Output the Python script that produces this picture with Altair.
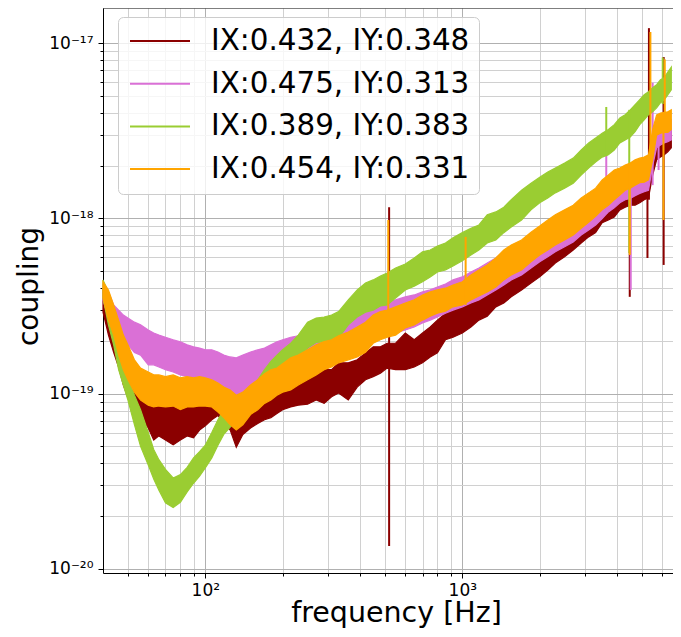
import altair as alt
import pandas as pd

# ---------------- data ----------------
freq = [40, 42, 44, 46, 48, 50, 53, 56, 60, 63, 66, 70, 75, 80, 85, 90, 95, 100,
        106, 112, 118, 125, 132, 140, 150, 160, 170, 180, 190, 200, 215, 230, 250,
        270, 290, 310, 330, 360, 390, 420, 450, 480, 510, 550, 600, 650, 700, 750,
        800, 860, 920, 1000, 1080, 1160, 1250, 1350, 1450, 1550, 1700, 1850, 2000,
        2150, 2300, 2500, 2700, 2900, 3100, 3300, 3500, 3700, 3900, 4100, 4300,
        4500, 4700, 4900, 5100, 5300, 5500, 5700, 5900, 6100, 6300, 6500]

labels = ["IX:0.432, IY:0.348", "IX:0.475, IY:0.313",
          "IX:0.389, IY:0.383", "IX:0.454, IY:0.331"]
colors = ["#8b0000", "#da70d6", "#9acd32", "#ffa500"]

# series 1 (dark red): upper / lower edge of the noisy trace
dr_hi = [4.0e-19, 3.25e-19, 2.70e-19, 2.16e-19, 1.66e-19, 1.37e-19, 1.17e-19, 1.05e-19,
         9.8e-20, 9.45e-20, 9.2e-20, 8.95e-20, 9.2e-20, 9.45e-20, 9.2e-20, 9.45e-20,
         9.8e-20, 1.02e-19, 1.05e-19, 1.02e-19, 9.8e-20, 9.45e-20, 8.6e-20, 8.95e-20,
         9.45e-20, 1.0e-19, 1.05e-19, 1.08e-19, 1.12e-19, 1.17e-19, 1.23e-19, 1.26e-19,
         1.30e-19, 1.31e-19, 1.37e-19, 1.37e-19, 1.50e-19, 1.50e-19, 1.56e-19, 1.71e-19,
         1.85e-19, 1.85e-19, 1.94e-19, 1.94e-19, 2.22e-19, 2.03e-19, 2.22e-19, 2.40e-19,
         2.63e-19, 2.88e-19, 3.0e-19, 3.13e-19, 3.52e-19, 3.81e-19, 4.0e-19, 4.64e-19,
         4.46e-19, 5.08e-19, 5.57e-19, 6.05e-19, 6.45e-19, 7.25e-19, 7.85e-19, 8.6e-19,
         8.95e-19, 1.02e-18, 1.07e-18, 1.16e-18, 1.28e-18, 1.33e-18, 1.40e-18, 1.45e-18,
         1.45e-18, 1.45e-18, 1.55e-18, 1.60e-18, 1.66e-18, 1.70e-18, 2.46e-18, 2.80e-18,
         2.80e-18, 2.91e-18, 3.07e-18, 3.22e-18]
dr_lo = [2.92e-19, 2.16e-19, 1.72e-19, 1.42e-19, 1.12e-19, 9.45e-20, 8.4e-20, 7.3e-20,
         6.37e-20, 5.44e-20, 5.74e-20, 5.44e-20, 5.1e-20, 5.44e-20, 5.74e-20, 5.6e-20,
         6.2e-20, 6.55e-20, 7.1e-20, 7.5e-20, 6.9e-20, 6.2e-20, 4.95e-20, 5.85e-20,
         6.37e-20, 6.75e-20, 7.1e-20, 7.3e-20, 7.7e-20, 8.1e-20, 8.4e-20, 8.6e-20,
         8.7e-20, 9.2e-20, 8.8e-20, 9.6e-20, 1.01e-19, 9.2e-20, 1.09e-19, 1.20e-19,
         1.25e-19, 1.31e-19, 1.40e-19, 1.37e-19, 1.37e-19, 1.42e-19, 1.50e-19, 1.62e-19,
         1.71e-19, 2.03e-19, 2.10e-19, 2.22e-19, 2.40e-19, 2.63e-19, 2.77e-19, 3.13e-19,
         3.29e-19, 3.57e-19, 3.91e-19, 4.28e-19, 4.64e-19, 5.08e-19, 5.57e-19, 6.05e-19,
         6.61e-19, 7.25e-19, 7.85e-19, 8.3e-19, 9.45e-19, 9.8e-19, 1.02e-18, 1.12e-18,
         1.16e-18, 1.19e-18, 1.19e-18, 1.23e-18, 1.28e-18, 1.31e-18, 1.77e-18, 2.16e-18,
         2.24e-18, 2.31e-18, 2.40e-18, 2.53e-18]
dr_spike_f = [519, 4480, 5250, 5320, 6070]
dr_spike_lo = [1.35e-20, 3.57e-19, 5.95e-19, 1.28e-18, 5.43e-19]
dr_spike_hi = [1.16e-18, 1.45e-18, 1.66e-18, 1.22e-17, 8.35e-18]

# series 2 (orchid)
vi_hi = [4.17e-19, 3.81e-19, 3.21e-19, 3.0e-19, 2.81e-19, 2.70e-19, 2.56e-19, 2.47e-19,
         2.31e-19, 2.22e-19, 2.16e-19, 2.10e-19, 2.03e-19, 1.98e-19, 1.90e-19, 1.85e-19,
         1.82e-19, 1.78e-19, 1.78e-19, 1.73e-19, 1.66e-19, 1.62e-19, 1.60e-19, 1.66e-19,
         1.73e-19, 1.78e-19, 1.82e-19, 1.90e-19, 1.98e-19, 2.03e-19, 2.10e-19, 2.14e-19,
         2.22e-19, 2.31e-19, 2.40e-19, 2.53e-19, 2.63e-19, 2.70e-19, 2.81e-19, 2.94e-19,
         3.21e-19, 3.21e-19, 3.29e-19, 3.43e-19, 3.57e-19, 3.66e-19, 3.81e-19, 3.91e-19,
         4.06e-19, 4.23e-19, 4.46e-19, 4.64e-19, 4.95e-19, 5.22e-19, 5.57e-19, 5.95e-19,
         6.45e-19, 6.90e-19, 7.25e-19, 7.95e-19, 8.6e-19, 9.18e-19, 9.8e-19, 1.05e-18,
         1.12e-18, 1.19e-18, 1.28e-18, 1.36e-18, 1.45e-18, 1.55e-18, 1.61e-18, 1.70e-18,
         1.77e-18, 1.81e-18, 1.84e-18, 1.89e-18, 1.94e-18, 2.02e-18, 2.8e-18, 3.33e-18,
         3.43e-18, 3.52e-18, 3.57e-18, 3.66e-18]
vi_lo = [3.43e-19, 2.70e-19, 2.37e-19, 2.16e-19, 1.98e-19, 1.90e-19, 1.72e-19, 1.66e-19,
         1.46e-19, 1.46e-19, 1.42e-19, 1.37e-19, 1.33e-19, 1.28e-19, 1.25e-19, 1.23e-19,
         1.20e-19, 1.17e-19, 1.14e-19, 1.11e-19, 1.05e-19, 1.02e-19, 9.2e-20, 1.02e-19,
         1.08e-19, 1.15e-19, 1.23e-19, 1.31e-19, 1.37e-19, 1.42e-19, 1.33e-19, 1.37e-19,
         1.42e-19, 1.46e-19, 1.53e-19, 1.60e-19, 1.66e-19, 1.72e-19, 1.82e-19, 1.90e-19,
         2.03e-19, 2.08e-19, 2.16e-19, 2.22e-19, 2.31e-19, 2.40e-19, 2.53e-19, 2.63e-19,
         2.74e-19, 2.88e-19, 3.0e-19, 3.13e-19, 3.29e-19, 3.43e-19, 3.66e-19, 3.91e-19,
         4.17e-19, 4.46e-19, 4.76e-19, 5.22e-19, 5.66e-19, 6.05e-19, 6.45e-19, 6.90e-19,
         7.35e-19, 8.05e-19, 8.6e-19, 9.18e-19, 1.0e-18, 1.09e-18, 1.15e-18, 1.23e-18,
         1.28e-18, 1.30e-18, 1.35e-18, 1.39e-18, 1.42e-18, 1.45e-18, 2.0e-18, 2.53e-18,
         2.63e-18, 2.70e-18, 2.74e-18, 2.81e-18]
vi_spike_f = [3630, 4520, 5500, 5800]
vi_spike_lo = [1.06e-18, 3.91e-19, 1.55e-18, 1.89e-18]
vi_spike_hi = [2.36e-18, 1.81e-18, 5.95e-18, 3.33e-18]

# series 3 (yellowgreen)
gr_hi = [4.46e-19, 3.81e-19, 3.0e-19, 2.16e-19, 1.66e-19, 1.28e-19, 9.8e-20, 8.1e-20,
         6.0e-20, 4.8e-20, 4.2e-20, 3.7e-20, 3.3e-20, 3.45e-20, 3.8e-20, 4.3e-20,
         4.67e-20, 5.08e-20, 6.0e-20, 7.1e-20, 8.1e-20, 8.6e-20, 9.2e-20, 9.8e-20,
         1.08e-19, 1.20e-19, 1.37e-19, 1.53e-19, 1.66e-19, 1.78e-19, 1.94e-19, 2.16e-19,
         2.56e-19, 2.70e-19, 2.74e-19, 2.81e-19, 2.94e-19, 3.43e-19, 3.91e-19, 4.28e-19,
         4.46e-19, 4.70e-19, 4.88e-19, 5.22e-19, 5.50e-19, 5.95e-19, 6.45e-19, 6.61e-19,
         6.95e-19, 7.25e-19, 7.75e-19, 8.3e-19, 8.8e-19, 9.18e-19, 1.05e-18, 1.09e-18,
         1.16e-18, 1.28e-18, 1.45e-18, 1.59e-18, 1.72e-18, 1.84e-18, 1.94e-18, 2.07e-18,
         2.21e-18, 2.46e-18, 2.70e-18, 2.88e-18, 3.07e-18, 3.22e-18, 3.43e-18, 3.75e-18,
         3.91e-18, 4.17e-18, 4.46e-18, 4.76e-18, 5.08e-18, 5.29e-18, 5.57e-18, 5.80e-18,
         6.19e-18, 6.35e-18, 6.85e-18, 7.3e-18]
gr_lo = [3.52e-19, 2.47e-19, 1.90e-19, 1.37e-19, 1.12e-19, 9.2e-20, 6.65e-20, 5.0e-20,
         3.92e-20, 3.26e-20, 2.81e-20, 2.38e-20, 2.24e-20, 2.4e-20, 2.75e-20, 3.08e-20,
         3.38e-20, 3.77e-20, 4.3e-20, 5.08e-20, 5.85e-20, 6.45e-20, 7.1e-20, 7.6e-20,
         8.5e-20, 9.2e-20, 1.05e-19, 1.17e-19, 1.25e-19, 1.37e-19, 1.50e-19, 1.60e-19,
         1.82e-19, 1.96e-19, 1.98e-19, 2.03e-19, 2.08e-19, 2.47e-19, 2.74e-19, 2.92e-19,
         3.0e-19, 3.17e-19, 3.21e-19, 3.52e-19, 3.91e-19, 4.11e-19, 4.35e-19, 4.64e-19,
         4.95e-19, 5.08e-19, 5.36e-19, 5.73e-19, 6.19e-19, 6.61e-19, 7.25e-19, 7.54e-19,
         8.3e-19, 8.95e-19, 9.8e-19, 1.12e-18, 1.23e-18, 1.31e-18, 1.40e-18, 1.49e-18,
         1.59e-18, 1.77e-18, 1.94e-18, 2.10e-18, 2.24e-18, 2.31e-18, 2.46e-18, 2.70e-18,
         2.81e-18, 2.92e-18, 3.13e-18, 3.43e-18, 3.66e-18, 3.91e-18, 4.06e-18, 4.28e-18,
         4.58e-18, 4.76e-18, 5.08e-18, 5.43e-18]
gr_spike_f = [3630, 4460, 6020]
gr_spike_lo = [2.27e-18, 6.35e-19, 4.5e-18]
gr_spike_hi = [4.33e-18, 4.17e-18, 8.3e-18]

# series 4 (orange)
or_hi = [4.35e-19, 3.91e-19, 3.21e-19, 2.63e-19, 2.16e-19, 1.90e-19, 1.56e-19, 1.40e-19,
         1.33e-19, 1.28e-19, 1.28e-19, 1.25e-19, 1.28e-19, 1.23e-19, 1.25e-19, 1.23e-19,
         1.25e-19, 1.23e-19, 1.20e-19, 1.15e-19, 1.09e-19, 1.05e-19, 9.8e-20, 1.02e-19,
         1.12e-19, 1.20e-19, 1.30e-19, 1.37e-19, 1.40e-19, 1.48e-19, 1.60e-19, 1.66e-19,
         1.78e-19, 1.90e-19, 1.98e-19, 2.03e-19, 2.14e-19, 2.25e-19, 2.40e-19, 2.56e-19,
         2.81e-19, 2.94e-19, 3.0e-19, 3.13e-19, 3.29e-19, 3.43e-19, 3.66e-19, 3.81e-19,
         3.91e-19, 4.0e-19, 4.17e-19, 4.35e-19, 4.76e-19, 5.08e-19, 5.43e-19, 5.95e-19,
         6.61e-19, 7.06e-19, 7.54e-19, 8.35e-19, 9.05e-19, 9.8e-19, 1.05e-18, 1.12e-18,
         1.19e-18, 1.31e-18, 1.40e-18, 1.49e-18, 1.66e-18, 1.77e-18, 1.89e-18, 1.94e-18,
         2.02e-18, 2.07e-18, 2.16e-18, 2.21e-18, 2.24e-18, 2.31e-18, 3.22e-18, 3.90e-18,
         4.0e-18, 4.03e-18, 4.06e-18, 4.17e-18]
or_lo = [3.52e-19, 2.63e-19, 2.16e-19, 1.66e-19, 1.37e-19, 1.20e-19, 1.02e-19, 9.2e-20,
         8.6e-20, 8.4e-20, 8.5e-20, 8.4e-20, 8.5e-20, 8.1e-20, 8.4e-20, 8.4e-20,
         8.5e-20, 8.5e-20, 8.4e-20, 7.85e-20, 7.3e-20, 6.65e-20, 6.2e-20, 6.65e-20,
         7.6e-20, 8.1e-20, 8.8e-20, 9.2e-20, 9.8e-20, 1.02e-19, 1.05e-19, 1.12e-19,
         1.20e-19, 1.28e-19, 1.37e-19, 1.42e-19, 1.50e-19, 1.56e-19, 1.62e-19, 1.72e-19,
         1.94e-19, 2.03e-19, 2.10e-19, 2.16e-19, 2.37e-19, 2.47e-19, 2.63e-19, 2.77e-19,
         2.88e-19, 2.96e-19, 3.13e-19, 3.21e-19, 3.43e-19, 3.61e-19, 3.81e-19, 4.06e-19,
         4.46e-19, 4.76e-19, 5.08e-19, 5.66e-19, 6.19e-19, 6.61e-19, 7.06e-19, 7.54e-19,
         8.05e-19, 8.8e-19, 9.5e-19, 1.03e-18, 1.12e-18, 1.19e-18, 1.28e-18, 1.36e-18,
         1.45e-18, 1.49e-18, 1.55e-18, 1.60e-18, 1.61e-18, 1.66e-18, 2.16e-18, 2.99e-18,
         3.07e-18, 3.1e-18, 3.1e-18, 3.22e-18]
or_spike_f = [515, 1030, 4480, 5390, 6060, 6130]
or_spike_lo = [2.1e-19, 3.21e-19, 6.19e-19, 2.2e-18, 9.8e-19, 3.1e-18]
or_spike_hi = [9.8e-19, 7.85e-19, 2.07e-18, 1.16e-17, 4.0e-18, 8.1e-18]

# axis tick positions
x_ticks = [50, 60, 70, 80, 90, 100, 200, 300, 400, 500, 600, 700, 800, 900,
           1000, 2000, 3000, 4000, 5000, 6000]
y_ticks = [2e-20, 3e-20, 4e-20, 5e-20, 6e-20, 7e-20, 8e-20, 9e-20, 1e-20,
           1e-19, 2e-19, 3e-19, 4e-19, 5e-19, 6e-19, 7e-19, 8e-19, 9e-19,
           1e-18, 2e-18, 3e-18, 4e-18, 5e-18, 6e-18, 7e-18, 8e-18, 9e-18, 1e-17]

# ---------------- chart ----------------
FONT = "DejaVu Sans"
W, H = 570, 565

x_major = "datum.value == 100 || datum.value == 1000"
y_lg = "log(datum.value)/LN10"
y_major = f"abs({y_lg} - round({y_lg})) < 0.01"

x_axis = alt.Axis(
    values=x_ticks,
    labelExpr="datum.value == 100 ? '10²' : (datum.value == 1000 ? '10³' : '')",
    title="frequency [Hz]", titleFontSize=28.5, titleFont=FONT,
    titleFontWeight="normal", titleX=293, titleY=48, titleAlign="center",
    titleBaseline="alphabetic",
    grid=True,
    gridColor={"condition": {"test": x_major, "value": "#b0b0b0"}, "value": "#d0d0d0"},
    tickSize={"condition": {"test": x_major, "value": 5}, "value": 3},
    labelFontSize=17, labelFont=FONT, labelPadding=4, labelOverlap=False,
    labelFlush=False,
)
y_axis = alt.Axis(
    values=y_ticks,
    labelExpr=(f"{y_major} ? ('10' + (round({y_lg}) == -17 ? '⁻¹⁷' : "
               f"(round({y_lg}) == -18 ? '⁻¹⁸' : (round({y_lg}) == -19 ? '⁻¹⁹' : '⁻²⁰')))) : ''"),
    title="coupling", titleFontSize=28, titleFont=FONT, titleFontWeight="normal",
    titleX=-66, titleY=278, titleAngle=270, titleAlign="center",
    titleBaseline="alphabetic",
    grid=True,
    gridColor={"condition": {"test": y_major, "value": "#b0b0b0"}, "value": "#d0d0d0"},
    tickSize={"condition": {"test": y_major, "value": 5}, "value": 3},
    labelFontSize=17, labelFont=FONT, labelPadding=5, labelOverlap=False,
    labelFlush=False,
)

x_scale = alt.Scale(type="log", domain=[40, 6600], nice=False)
y_scale = alt.Scale(type="log", domain=[9.47e-21, 1.59e-17], nice=False)
color_scale = alt.Scale(domain=labels, range=colors)

legend = alt.Legend(
    title=None, orient="none", legendX=15, legendY=9,
    symbolType="stroke", symbolSize=3600, symbolStrokeWidth=2,
    labelFont=FONT, labelFontSize=29.4, labelColor="black", labelLimit=600,
    padding=9, fillColor="rgba(255,255,255,0.8)", strokeColor="#cccccc",
    cornerRadius=5, clipHeight=30, rowPadding=12.7, labelOffset=20,
    symbolOffset=2,
)

series = [
    (labels[0], dr_lo, dr_hi, dr_spike_f, dr_spike_lo, dr_spike_hi),
    (labels[1], vi_lo, vi_hi, vi_spike_f, vi_spike_lo, vi_spike_hi),
    (labels[2], gr_lo, gr_hi, gr_spike_f, gr_spike_lo, gr_spike_hi),
    (labels[3], or_lo, or_hi, or_spike_f, or_spike_lo, or_spike_hi),
]

layers = []
for name, lo, hi, sf, slo, shi in series:
    band = pd.DataFrame({"f": freq, "lo": lo, "hi": hi, "series": name})
    spk = pd.DataFrame({"f": sf, "lo": slo, "hi": shi, "series": name})
    layers.append(
        alt.Chart(band).mark_area(opacity=1, strokeWidth=1.2, interpolate="linear").encode(
            x=alt.X("f:Q", scale=x_scale, axis=x_axis),
            y=alt.Y("lo:Q", scale=y_scale, axis=y_axis),
            y2="hi:Q",
            fill=alt.Fill("series:N", scale=color_scale, legend=legend),
            stroke=alt.Stroke("series:N", scale=color_scale, legend=legend),
        )
    )
    layers.append(
        alt.Chart(spk).mark_rule(strokeWidth=2).encode(
            x=alt.X("f:Q", scale=x_scale, axis=x_axis),
            y=alt.Y("lo:Q", scale=y_scale, axis=y_axis),
            y2="hi:Q",
            stroke=alt.Stroke("series:N", scale=color_scale, legend=legend),
        )
    )

top_spine = alt.Chart(pd.DataFrame({"a": [0]})).mark_rule(color="black", strokeWidth=1).encode(
    x=alt.value(0), x2=alt.value(W), y=alt.value(0)
)

chart = (
    alt.layer(*layers, top_spine)
    .properties(
        width=W, height=H,
        autosize=alt.AutoSizeParams(type="none"),
        padding={"left": 95, "top": 0, "right": 0, "bottom": 56},
    )
    .configure_view(stroke=None)
    .configure_axis(
        domainColor="black", domainWidth=1, tickColor="black", tickWidth=1,
        labelColor="black", titleColor="black", gridWidth=1,
    )
)

chart.save("out.html", embed_options={"renderer": "svg", "actions": False})
